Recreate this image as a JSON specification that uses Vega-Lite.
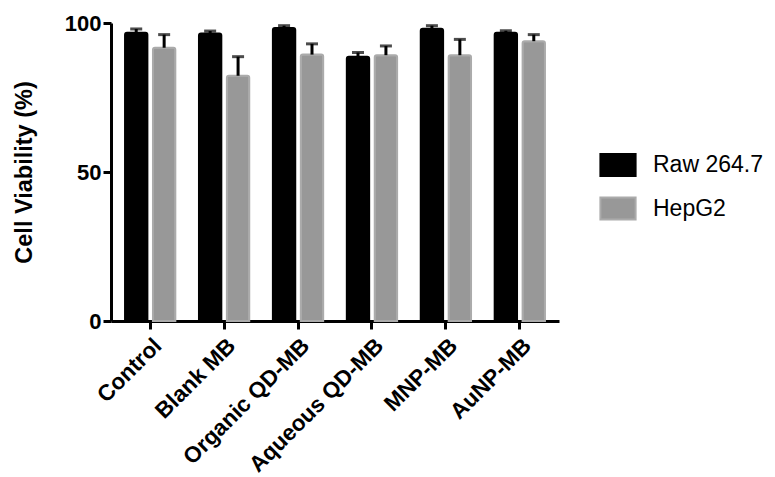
{
  "$schema": "https://vega.github.io/schema/vega-lite/v6.json",
  "width": 448,
  "height": 298,
  "padding": {"left": 12, "top": 12, "right": 5, "bottom": 0},
  "background": "white",
  "config": {
    "view": {"stroke": null},
    "font": "Liberation Sans",
    "axis": {"grid": false, "domainColor": "black", "tickColor": "black", "labelColor": "black", "titleColor": "black", "domainWidth": 3, "tickWidth": 3, "tickSize": 8}
  },
  "data": {
    "values": [
      {"group": "Control", "cell": "Raw 264.7", "viability": 96.7, "upper": 98.0},
      {"group": "Control", "cell": "HepG2", "viability": 91.7, "upper": 96.1},
      {"group": "Blank MB", "cell": "Raw 264.7", "viability": 96.5, "upper": 97.3},
      {"group": "Blank MB", "cell": "HepG2", "viability": 82.3, "upper": 88.7},
      {"group": "Organic QD-MB", "cell": "Raw 264.7", "viability": 98.3, "upper": 99.1},
      {"group": "Organic QD-MB", "cell": "HepG2", "viability": 89.4, "upper": 93.0},
      {"group": "Aqueous QD-MB", "cell": "Raw 264.7", "viability": 88.7, "upper": 90.1},
      {"group": "Aqueous QD-MB", "cell": "HepG2", "viability": 89.2, "upper": 92.3},
      {"group": "MNP-MB", "cell": "Raw 264.7", "viability": 98.1, "upper": 99.1},
      {"group": "MNP-MB", "cell": "HepG2", "viability": 89.2, "upper": 94.5},
      {"group": "AuNP-MB", "cell": "Raw 264.7", "viability": 96.7, "upper": 97.4},
      {"group": "AuNP-MB", "cell": "HepG2", "viability": 93.9, "upper": 96.1}
    ]
  },
  "encoding": {
    "x": {
      "field": "group", "type": "nominal",
      "sort": ["Control", "Blank MB", "Organic QD-MB", "Aqueous QD-MB", "MNP-MB", "AuNP-MB"],
      "scale": {"paddingInner": 0.32, "paddingOuter": 0.19},
      "axis": {"title": null, "labelAngle": -45, "labelFontSize": 22.5, "labelFontWeight": "bold", "labelPadding": 5, "labelLimit": 400}
    },
    "xOffset": {
      "field": "cell", "type": "nominal",
      "sort": ["Raw 264.7", "HepG2"],
      "scale": {"paddingInner": 0.2, "paddingOuter": 0}
    }
  },
  "layer": [
    {
      "mark": {"type": "bar", "strokeWidth": 2, "cornerRadiusTopLeft": 2, "cornerRadiusTopRight": 2},
      "encoding": {
        "y": {
          "field": "viability", "type": "quantitative",
          "scale": {"domain": [0, 100], "nice": false},
          "axis": {"title": "Cell Viability (%)", "values": [0, 50, 100], "labelFontSize": 22, "labelFontWeight": "bold", "labelPadding": 2, "titleFontSize": 23.5, "titleFontWeight": "bold", "titlePadding": 28}
        },
        "color": {
          "field": "cell", "type": "nominal",
          "scale": {"domain": ["Raw 264.7", "HepG2"], "range": ["#000000", "#989898"]},
          "legend": {
            "title": null, "orient": "none", "legendX": 495, "legendY": 130,
            "symbolType": "M-1.6,-1L1.6,-1L1.6,1L-1.6,1Z", "symbolSize": 484,
            "symbolStrokeWidth": 2, "labelFontSize": 23, "labelColor": "black",
            "labelOffset": 23, "rowPadding": 13.5, "padding": 0
          }
        },
        "stroke": {
          "field": "cell", "type": "nominal",
          "scale": {"domain": ["Raw 264.7", "HepG2"], "range": ["#000000", "#ababab"]},
          "legend": null
        }
      }
    },
    {
      "mark": {"type": "rule", "color": "black", "strokeWidth": 3},
      "encoding": {
        "y": {"field": "viability", "type": "quantitative"},
        "y2": {"field": "upper"}
      }
    },
    {
      "mark": {"type": "tick", "color": "black", "size": 12, "thickness": 3},
      "encoding": {
        "y": {"field": "upper", "type": "quantitative"}
      }
    }
  ]
}
